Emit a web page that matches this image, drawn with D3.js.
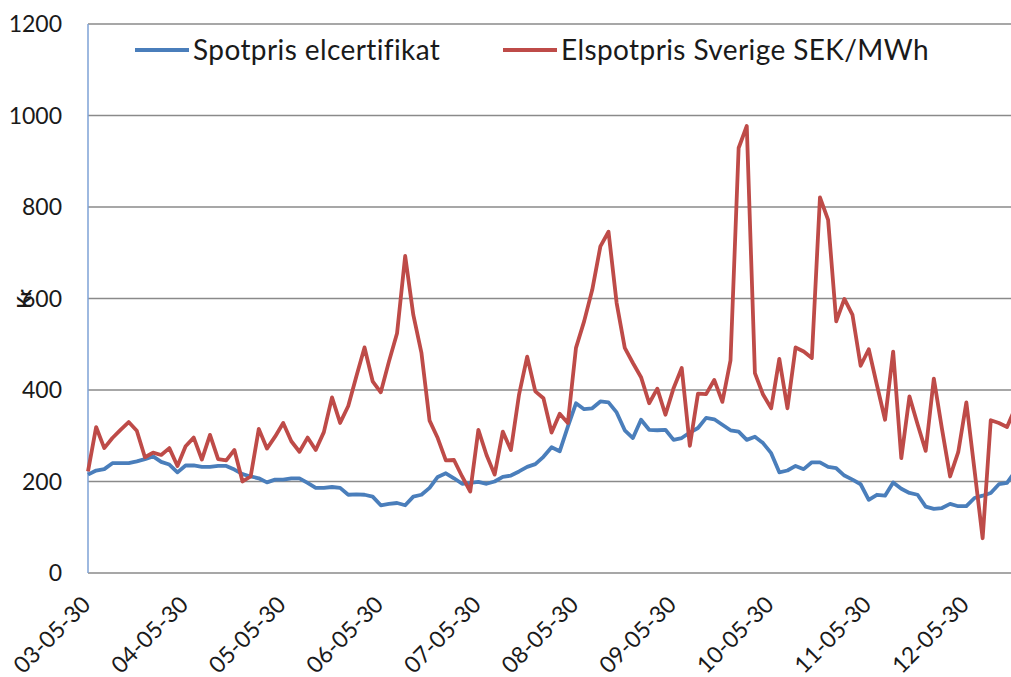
<!DOCTYPE html>
<meta charset="utf-8">
<style>
  body {margin: 0; background: #fff;}
  svg text {font-family: Lato, "Open Sans", sans-serif; fill: #1a1a1a;}
</style>
<svg width="1011" height="677"></svg>
<script src="https://d3js.org/d3.v7.min.js"></script>
<script>

// monthly values, 2003-05 .. 2012-11
var elcert = [215,224,227,240,240,240,244,249,255,243,237,220,235,235,232,232,234,234,226,216,
  211,207,198,204,204,207,207,197,186,186,188,186,171,172,171,167,148,151,153,148,
  167,171,186,210,218,207,195,197,199,195,200,210,213,222,232,238,254,275,266,320,
  371,358,360,375,373,351,312,295,335,313,312,313,291,295,307,317,339,336,324,312,
  309,291,298,284,262,220,224,234,227,242,242,232,229,213,204,194,160,171,169,198,
  184,175,171,145,140,142,151,146,146,164,169,175,194,197,222];

var elspot = [222,319,273,295,313,330,311,253,263,258,273,234,277,296,248,302,249,246,269,200,
  211,315,272,298,328,288,265,296,269,308,384,328,365,430,493,419,395,462,524,693,
  564,481,333,295,246,247,211,178,313,258,215,309,269,390,473,397,382,307,348,328,
  492,550,619,714,746,590,492,459,428,371,403,346,404,448,278,392,391,422,374,465,
  929,977,437,390,360,468,360,493,484,470,821,772,550,599,564,453,489,411,335,484,
  251,386,325,267,425,315,211,264,373,225,76,334,328,319,360];

var tickLabels = ["03-05-30","04-05-30","05-05-30","06-05-30","07-05-30",
  "08-05-30","09-05-30","10-05-30","11-05-30","12-05-30"];
var yTicks = [0,200,400,600,800,1000,1200];

var seriesNames = ["Spotpris elcertifikat", "Elspotpris Sverige SEK/MWh"];
var colors = ["#4a7ebb", "#be4b48"];

var svg = d3.select("svg");
var plotLeft = 88, plotTop = 24, plotBottom = 573;

var x = d3.scaleLinear().domain([0, 114]).range([plotLeft, plotLeft + 114 * 8.133]);
var y = d3.scaleLinear().domain([0, 1200]).range([plotBottom, plotTop]);

// gridlines
svg.append("g").selectAll("line")
    .data(yTicks)
  .enter().append("line")
    .attr("x1", plotLeft).attr("x2", 1011)
    .attr("y1", function(d) { return y(d); })
    .attr("y2", function(d) { return y(d); })
    .style("stroke", "#8a8a8a")
    .style("stroke-width", 1.5);

// y axis line
svg.append("line")
    .attr("x1", plotLeft).attr("x2", plotLeft)
    .attr("y1", plotTop).attr("y2", plotBottom)
    .style("stroke", "#7ea2d6")
    .style("stroke-width", 1.5);

// y tick labels
svg.append("g").selectAll("text")
    .data(yTicks)
  .enter().append("text")
    .attr("x", 62)
    .attr("y", function(d) { return y(d); })
    .attr("dy", "0.36em")
    .attr("text-anchor", "end")
    .style("font-size", "23px")
    .text(function(d) { return d; });

// x tick labels, one per year
svg.append("g").selectAll("text")
    .data(tickLabels)
  .enter().append("text")
    .attr("transform", function(d, i) { return "translate(" + (x(i * 12) + 4) + ",606) rotate(-45)"; })
    .attr("text-anchor", "end")
    .style("font-size", "23px")
    .text(function(d) { return d; });

// y title
svg.append("text")
    .attr("transform", "translate(31,299) rotate(-90)")
    .attr("text-anchor", "middle")
    .style("font-size", "18px")
    .style("font-weight", "bold")
    .text("Kr");

var line = d3.line()
    .x(function(d, i) { return x(i); })
    .y(function(d) { return y(d); });

[elcert, elspot].forEach(function(s, k) {
  svg.append("path")
      .datum(s)
      .attr("d", line)
      .style("fill", "none")
      .style("stroke", colors[k])
      .style("stroke-width", 3.8)
      .style("stroke-linejoin", "round");
});

// legend
var legendX = [135, 503];
var legend = svg.append("g").selectAll("g")
    .data(seriesNames)
  .enter().append("g")
    .attr("transform", function(d, i) { return "translate(" + legendX[i] + ",50)"; });

legend.append("line")
    .attr("x1", 0).attr("x2", 54)
    .style("stroke", function(d, i) { return colors[i]; })
    .style("stroke-width", 3.8);

legend.append("text")
    .attr("x", 58)
    .attr("dy", "0.35em")
    .style("font-size", "28px")
    .style("letter-spacing", "0.4px")
    .text(function(d) { return d; });

</script>
